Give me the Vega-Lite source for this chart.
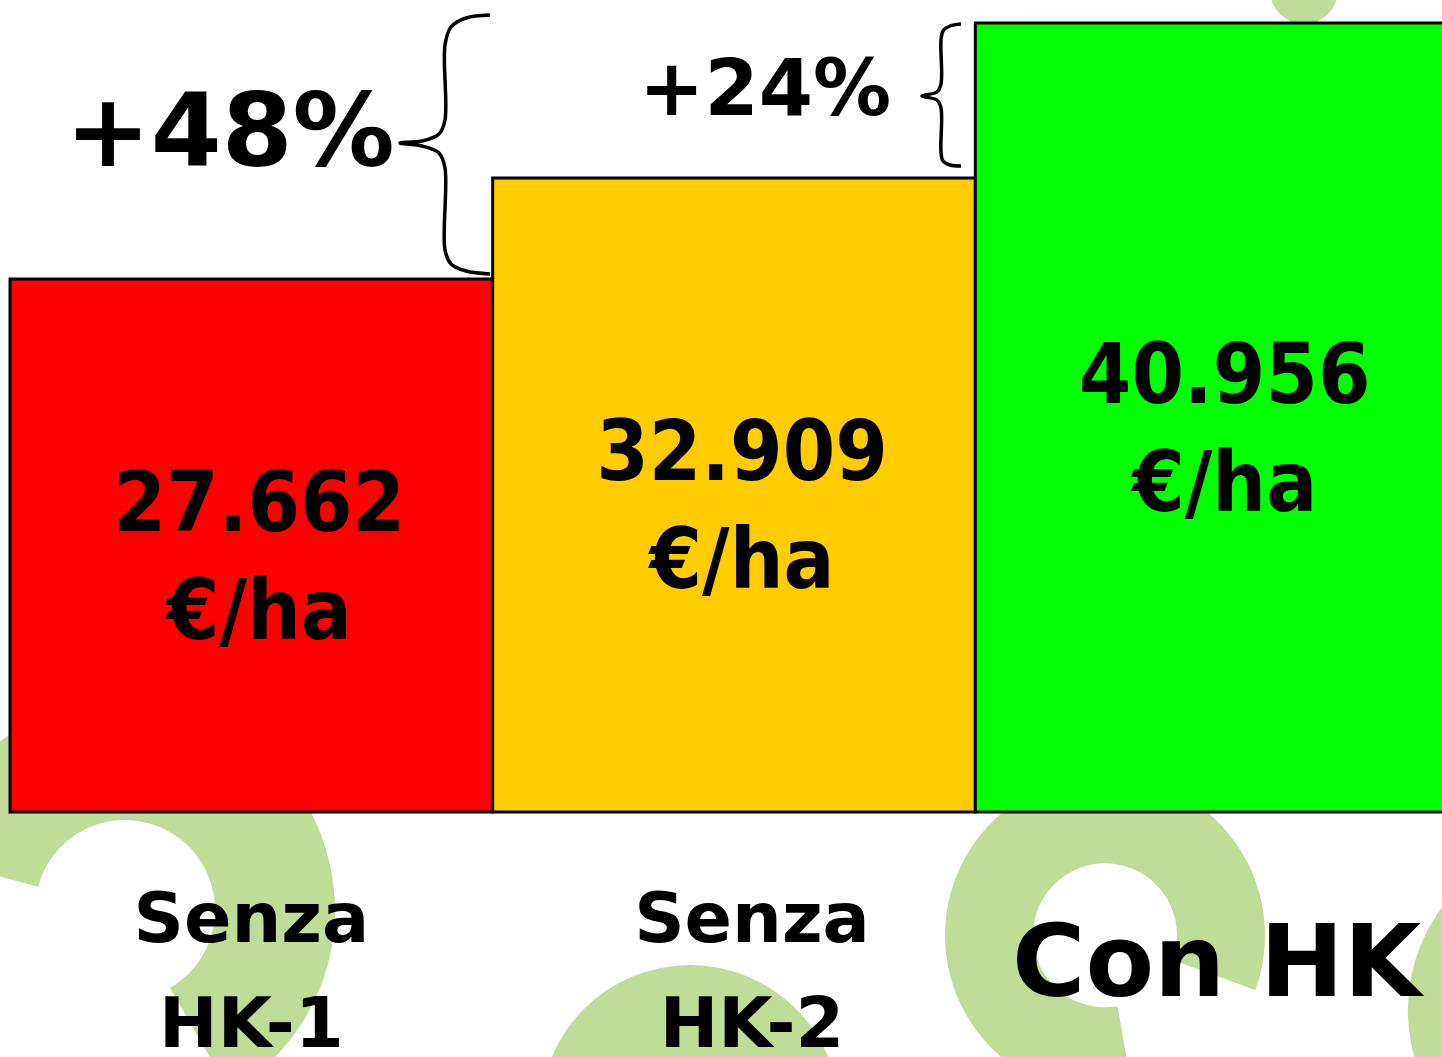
{
  "$schema": "https://vega.github.io/schema/vega-lite/v6.json",
  "width": 1442,
  "height": 812,
  "autosize": "none",
  "padding": {"left": 0, "top": 0, "right": 0, "bottom": 245},
  "background": "white",
  "config": {"view": {"stroke": null}},
  "datasets": {
    "barre": [
      {"categoria": "Senza HK-1", "valore": 27662, "testo": "27.662\n€/ha"},
      {"categoria": "Senza HK-2", "valore": 32909, "testo": "32.909\n€/ha"},
      {"categoria": "Con HK", "valore": 40956, "testo": "40.956\n€/ha"}
    ],
    "spirali": [
      {"pos": 0.2392, "livello": -5087, "t1": 285, "t2": 510, "ri": 90, "ro": 210},
      {"pos": 1.4147, "livello": -15729, "t1": 0, "t2": 360, "ri": 0, "ro": 150},
      {"pos": 2.2781, "livello": -6400, "t1": 170, "t2": 470, "ri": 72, "ro": 160},
      {"pos": 3.266, "livello": -10278, "t1": 0, "t2": 360, "ri": 0, "ro": 172},
      {"pos": 2.692, "livello": 42670, "t1": 0, "t2": 360, "ri": 0, "ro": 34}
    ],
    "graffe": [
      {"g": "48", "i": 0, "pos": 0.9986, "livello": 41372},
      {"g": "48", "i": 1, "pos": 0.9487, "livello": 41217},
      {"g": "48", "i": 2, "pos": 0.9175, "livello": 40749},
      {"g": "48", "i": 3, "pos": 0.905, "livello": 39815},
      {"g": "48", "i": 4, "pos": 0.905, "livello": 35922},
      {"g": "48", "i": 5, "pos": 0.8925, "livello": 35195},
      {"g": "48", "i": 6, "pos": 0.8571, "livello": 34832},
      {"g": "48", "i": 7, "pos": 0.8114, "livello": 34728},
      {"g": "48", "i": 8, "pos": 0.8571, "livello": 34572},
      {"g": "48", "i": 9, "pos": 0.8925, "livello": 34209},
      {"g": "48", "i": 10, "pos": 0.905, "livello": 33430},
      {"g": "48", "i": 11, "pos": 0.905, "livello": 29173},
      {"g": "48", "i": 12, "pos": 0.9175, "livello": 28447},
      {"g": "48", "i": 13, "pos": 0.9487, "livello": 28083},
      {"g": "48", "i": 14, "pos": 0.9986, "livello": 27928},
      {"g": "24", "i": 0, "pos": 1.9785, "livello": 40905},
      {"g": "24", "i": 1, "pos": 1.9556, "livello": 40801},
      {"g": "24", "i": 2, "pos": 1.9411, "livello": 40542},
      {"g": "24", "i": 3, "pos": 1.9369, "livello": 40075},
      {"g": "24", "i": 4, "pos": 1.9369, "livello": 37790},
      {"g": "24", "i": 5, "pos": 1.9286, "livello": 37375},
      {"g": "24", "i": 6, "pos": 1.8974, "livello": 37168},
      {"g": "24", "i": 7, "pos": 1.9286, "livello": 36960},
      {"g": "24", "i": 8, "pos": 1.9369, "livello": 36545},
      {"g": "24", "i": 9, "pos": 1.9369, "livello": 34261},
      {"g": "24", "i": 10, "pos": 1.9411, "livello": 33793},
      {"g": "24", "i": 11, "pos": 1.9556, "livello": 33586},
      {"g": "24", "i": 12, "pos": 1.9785, "livello": 33534}
    ],
    "percentuali": [
      {"testo": "+48%", "pos": 0.4577, "livello": 35143},
      {"testo": "+24%", "pos": 1.571, "livello": 37376}
    ]
  },
  "resolve": {"scale": {"x": "independent"}},
  "layer": [
    {
      "data": {"name": "spirali"},
      "mark": {"type": "arc", "color": "#c0dc98"},
      "encoding": {
        "x": {"field": "pos", "type": "quantitative", "axis": null, "scale": {"domain": [0, 3], "range": [10, 1452], "nice": false, "zero": false}},
        "y": {"field": "livello", "type": "quantitative", "axis": null, "scale": {"domain": [0, 42151], "nice": false, "zero": false}},
        "theta": {"field": "t1", "type": "quantitative", "stack": null, "scale": {"type": "linear", "domain": [0, 360], "range": [0, 6.283185], "zero": false, "nice": false}},
        "theta2": {"field": "t2"},
        "radius": {"field": "ro", "type": "quantitative", "scale": {"type": "linear", "domain": [0, 1000], "range": [0, 1000], "zero": true, "nice": false}},
        "radius2": {"field": "ri"}
      }
    },
    {
      "data": {"name": "barre"},
      "encoding": {
        "x": {
          "field": "categoria", "type": "nominal", "sort": null,
          "scale": {"range": [10, 1458], "paddingInner": 0, "paddingOuter": 0},
          "axis": {
            "orient": "bottom", "title": null, "domain": false, "ticks": false, "tickSize": 0, "zindex": 1,
            "labelPadding": {"condition": {"test": "datum.label == 'Con HK'", "value": 153}, "value": 108},
            "labelOffset": {"condition": {"test": "datum.label == 'Senza HK-2'", "value": 18}, "value": 0},
            "labelAngle": 0, "labelFont": "DejaVu Sans", "labelFontWeight": "bold",
            "labelColor": "black",
            "labelFontSize": {"condition": {"test": "datum.label == 'Con HK'", "value": 100}, "value": 70},
            "labelLineHeight": 105, "labelBaseline": "middle",
            "labelExpr": "datum.label == 'Con HK' ? datum.label : split(datum.label, ' ')",
            "labelLimit": 0, "labelOverlap": false, "labelBound": false, "labelFlush": false
          }
        }
      },
      "layer": [
        {
          "mark": {"type": "bar", "stroke": "black", "strokeWidth": 3},
          "encoding": {
            "y": {"field": "valore", "type": "quantitative", "axis": null, "scale": {"domain": [0, 42151], "nice": false, "zero": false}},
            "color": {"field": "categoria", "type": "nominal", "legend": null, "scale": {"domain": ["Senza HK-1", "Senza HK-2", "Con HK"], "range": ["#ff0000", "#ffcc00", "#00ff00"]}}
          }
        },
        {
          "transform": [{"calculate": "datum.valore / 2", "as": "centro"}],
          "mark": {"type": "text", "font": "DejaVu Sans Condensed", "fontWeight": "bold", "fontSize": 84, "lineHeight": 108, "lineBreak": "\n", "color": "black", "baseline": "middle", "align": "center", "dx": 8, "dy": -40},
          "encoding": {
            "y": {"field": "centro", "type": "quantitative", "axis": null, "scale": {"domain": [0, 42151], "nice": false, "zero": false}},
            "text": {"field": "testo"}
          }
        }
      ]
    },
    {
      "data": {"name": "graffe"},
      "mark": {"type": "line", "color": "black", "strokeWidth": 3.5, "interpolate": "catmull-rom"},
      "encoding": {
        "x": {"field": "pos", "type": "quantitative", "axis": null, "scale": {"domain": [0, 3], "range": [10, 1452], "nice": false, "zero": false}},
        "y": {"field": "livello", "type": "quantitative", "axis": null, "scale": {"domain": [0, 42151], "nice": false, "zero": false}},
        "detail": {"field": "g"},
        "order": {"field": "i", "type": "quantitative"}
      }
    },
    {
      "data": {"name": "percentuali"},
      "mark": {"type": "text", "font": "DejaVu Sans", "fontWeight": "bold", "color": "black", "align": "center", "baseline": "middle", "fontSize": {"expr": "datum.testo == '+48%' ? 102 : 78"}},
      "encoding": {
        "x": {"field": "pos", "type": "quantitative", "axis": null, "scale": {"domain": [0, 3], "range": [10, 1452], "nice": false, "zero": false}},
        "y": {"field": "livello", "type": "quantitative", "axis": null, "scale": {"domain": [0, 42151], "nice": false, "zero": false}},
        "text": {"field": "testo"}
      }
    }
  ]
}
